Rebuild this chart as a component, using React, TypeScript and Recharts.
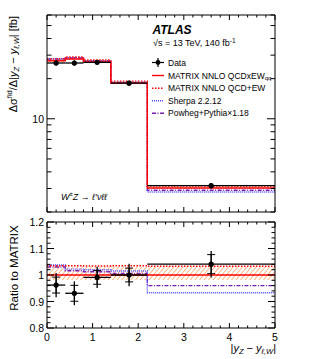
import React from 'react';
import { Area, ComposedChart, ErrorBar, Line, Scatter, XAxis, YAxis } from 'recharts';

// binning in |y_Z - y_l,W|
const binEdges = [0, 0.4, 0.8, 1.4, 2.2, 5];
const binCenters = [0.2, 0.6, 1.1, 1.8, 3.6];

// upper panel, fb
const dataXs = [26.2, 26.2, 26.5, 18.5, 3.15];
const matrixXs = [27.2, 28.1, 26.7, 18.5, 3.03];

// lower panel, ratio to MATRIX
const dataRatio = [0.962, 0.931, 0.991, 1.0, 1.041];
const dataRatioTot = [0.046, 0.045, 0.04, 0.042, 0.05];
const dataRatioStat = [0.03, 0.03, 0.026, 0.026, 0.036];
const matrixRatio = [1, 1, 1, 1, 1];
const matrixBandLo = [0.981, 0.981, 0.981, 0.981, 0.981];
const matrixBandHi = [1.031, 1.031, 1.031, 1.031, 1.031];
const qcdEwRatio = [1.035, 1.035, 1.034, 1.035, 1.033];
const sherpaRatio = [1.038, 1.022, 1.02, 1.015, 0.933];
const powhegRatio = [1.03, 1.016, 1.012, 1.006, 0.96];

// ticks
const xTicks = Array.from({ length: 26 }, (_, i) => Math.round(i * 20) / 100);
const xMajor = [0, 1, 2, 3, 4, 5];
const yTopTicks = [2, 3, 4, 5, 6, 7, 8, 9, 10, 20, 30, 40, 50, 60];
const yTopMajor = [10];
const yRatioTicks = Array.from({ length: 21 }, (_, i) => Math.round(80 + i * 2) / 100);
const yRatioMajor = [0.8, 0.9, 1, 1.1, 1.2];

const FONT = '"Liberation Sans", Arial, Helvetica, sans-serif';
const RED = '#ff0000';
const BLUE = '#4d4dff';
const PURPLE = '#7a1fb0';
const ORANGE = '#ff8a3d';

const pick = (vals: number[], i: number) => vals[Math.min(i, vals.length - 1)];

const topRows = binEdges.map((x, i) => {
  const m = pick(matrixXs, i);
  return {
    x,
    matrix: m,
    qcdew: m * pick(qcdEwRatio, i),
    sherpa: m * pick(sherpaRatio, i),
    powheg: m * pick(powhegRatio, i),
    band: [m * pick(matrixBandLo, i), m * pick(matrixBandHi, i)]
  };
});

const ratioRows = binEdges.map((x, i) => ({
  x,
  matrix: pick(matrixRatio, i),
  qcdew: pick(qcdEwRatio, i),
  sherpa: pick(sherpaRatio, i),
  powheg: pick(powhegRatio, i),
  band: [pick(matrixBandLo, i), pick(matrixBandHi, i)]
}));

const topPoints = binCenters.map((x, i) => ({
  x,
  y: dataXs[i],
  ex: (binEdges[i + 1] - binEdges[i]) / 2,
  eTot: (dataXs[i] * dataRatioTot[i]) / dataRatio[i]
}));

const ratioPoints = binCenters.map((x, i) => ({
  x,
  y: dataRatio[i],
  ex: (binEdges[i + 1] - binEdges[i]) / 2,
  eTot: dataRatioTot[i],
  eStat: dataRatioStat[i]
}));

type Side = 'bottom' | 'top' | 'left' | 'right';

// inward ticks; tickSize/tickMargin are 0 so x/y sit on the axis line
const makeTick =
  (side: Side, majors: number[], showLabels: boolean, majorLen: number, minorLen: number) =>
  (props: any) => {
    const { x, y, payload } = props;
    const v = payload.value as number;
    const isMajor = majors.some((m) => Math.abs(m - v) < 1e-6);
    const len = isMajor ? majorLen : minorLen;
    let line;
    if (side === 'bottom') line = <line x1={x} x2={x} y1={y} y2={y - len} />;
    else if (side === 'top') line = <line x1={x} x2={x} y1={y} y2={y + len} />;
    else if (side === 'left') line = <line x1={x} x2={x + len} y1={y} y2={y} />;
    else line = <line x1={x} x2={x - len} y1={y} y2={y} />;
    let label = null;
    if (showLabels && isMajor) {
      if (side === 'bottom') {
        label = (
          <text x={x} y={y + 9} textAnchor="middle" dominantBaseline="central" fontSize={10.5} fontFamily={FONT} fill="#000" stroke="none">
            {v}
          </text>
        );
      } else if (side === 'left') {
        label = (
          <text x={x - 3} y={y} textAnchor="end" dominantBaseline="central" fontSize={10.5} fontFamily={FONT} fill="#000" stroke="none">
            {v}
          </text>
        );
      }
    }
    return (
      <g stroke="#000" strokeWidth={1}>
        {line}
        {label}
      </g>
    );
  };

const axisLine = { stroke: '#000', strokeWidth: 1 };

const Hatch = () => (
  <defs>
    <pattern id="hatch" width="3.5" height="3.5" patternUnits="userSpaceOnUse" patternTransform="rotate(40)">
      <line x1="0" y1="0" x2="0" y2="3.5" stroke={ORANGE} strokeWidth="1.2" />
    </pattern>
  </defs>
);

const dotShape = (p: any) => <circle cx={p.cx} cy={p.cy} r={2.6} fill="#000" />;

const seriesLines = (w: number) => [
  <Area key="band" dataKey="band" type="stepAfter" fill="url(#hatch)" fillOpacity={1} stroke="none" isAnimationActive={false} />,
  <Line key="powheg" dataKey="powheg" type="stepAfter" stroke={PURPLE} strokeWidth={w} strokeDasharray="4 1.5 1 1.5" dot={false} isAnimationActive={false} />,
  <Line key="sherpa" dataKey="sherpa" type="stepAfter" stroke={BLUE} strokeWidth={w} strokeDasharray="1 1" dot={false} isAnimationActive={false} />,
  <Line key="qcdew" dataKey="qcdew" type="stepAfter" stroke={RED} strokeWidth={w} strokeDasharray="1.5 1.5" dot={false} isAnimationActive={false} />,
  <Line key="matrix" dataKey="matrix" type="stepAfter" stroke={RED} strokeWidth={w} dot={false} isAnimationActive={false} />
];

const frameAxes = (yProps: any, showX: boolean, yMajorLen: number, yMinorLen: number) => [
  <XAxis key="xb" dataKey="x" type="number" domain={[0, 5]} ticks={xTicks} interval={0} height={1} tickSize={0} tickMargin={0}
    axisLine={axisLine} tickLine={false} tick={makeTick('bottom', xMajor, showX, 5, 2.5)} allowDataOverflow />,
  <XAxis key="xt" xAxisId="t" orientation="top" dataKey="x" type="number" domain={[0, 5]} ticks={xTicks} interval={0} height={1}
    tickSize={0} tickMargin={0} axisLine={axisLine} tickLine={false} tick={makeTick('top', xMajor, false, 5, 2.5)} allowDataOverflow />,
  <YAxis key="yl" {...yProps} interval={0} width={1} tickSize={0} tickMargin={0} axisLine={axisLine} tickLine={false}
    tick={makeTick('left', yProps.majors, true, yMajorLen, yMinorLen)} allowDataOverflow />,
  <YAxis key="yr" yAxisId="r" orientation="right" {...yProps} interval={0} width={1} tickSize={0} tickMargin={0} axisLine={axisLine}
    tickLine={false} tick={makeTick('right', yProps.majors, false, yMajorLen, yMinorLen)} allowDataOverflow />
];

const TopPanel = () => (
  <ComposedChart width={317} height={222} data={topRows} margin={{ top: 14, right: 41, bottom: 9, left: 46 }}>
    <Hatch />
    {frameAxes({ scale: 'log', type: 'number', domain: [2, 60], ticks: yTopTicks, majors: yTopMajor }, false, 8, 4.5)}
    {seriesLines(1.4)}
    <Scatter data={topPoints} dataKey="y" shape={dotShape} isAnimationActive={false}>
      <ErrorBar dataKey="ex" direction="x" width={0} stroke="#000" strokeWidth={1.3} />
      <ErrorBar dataKey="eTot" direction="y" width={0} stroke="#000" strokeWidth={1.3} />
    </Scatter>
  </ComposedChart>
);

const RatioPanel = () => (
  <ComposedChart width={317} height={147} data={ratioRows} margin={{ top: 9, right: 41, bottom: 30, left: 46 }}>
    <Hatch />
    {frameAxes({ type: 'number', domain: [0.8, 1.2], ticks: yRatioTicks, majors: yRatioMajor }, true, 7, 3.5)}
    {seriesLines(1.4)}
    <Scatter data={ratioPoints} dataKey="y" shape={dotShape} isAnimationActive={false}>
      <ErrorBar dataKey="ex" direction="x" width={0} stroke="#000" strokeWidth={1.3} />
      <ErrorBar dataKey="eTot" direction="y" width={0} stroke="#000" strokeWidth={1.3} />
      <ErrorBar dataKey="eStat" direction="y" width={4} stroke="#000" strokeWidth={1} />
    </Scatter>
  </ComposedChart>
);

const legendRows = [
  { label: 'Data', y: 62.5 },
  { label: 'MATRIX NNLO QCDxEW', sub: 'qq', y: 75.5, stroke: RED, dash: undefined },
  { label: 'MATRIX NNLO QCD+EW', y: 88.3, stroke: RED, dash: '1.5 1.5' },
  { label: 'Sherpa 2.2.12', y: 100.8, stroke: BLUE, dash: '1 1' },
  { label: 'Powheg+Pythia\u00d71.18', y: 113.3, stroke: PURPLE, dash: '4 1.5 1 1.5' }
];

const Overlay = () => (
  <svg width={317} height={359} style={{ position: 'absolute', left: 0, top: 0, pointerEvents: 'none' }} fontFamily={FONT}>
    <text x={152.5} y={29.5} fontSize={12} fontWeight="bold" fontStyle="italic" dominantBaseline="central">ATLAS</text>
    <text x={153} y={43} fontSize={9} dominantBaseline="central">
      {'\u221As = 13 TeV, 140 fb'}
      <tspan dy={-3.5} fontSize={6.5}>-1</tspan>
    </text>
    {legendRows.map((r) => (
      <g key={r.label}>
        {r.label === 'Data' ? (
          <g stroke="#000" strokeWidth={1.2}>
            <line x1={152} x2={164} y1={r.y} y2={r.y} />
            <line x1={158} x2={158} y1={r.y - 4.5} y2={r.y + 4.5} />
            <circle cx={158} cy={r.y} r={2.4} fill="#000" stroke="none" />
          </g>
        ) : (
          <line x1={152} x2={164} y1={r.y} y2={r.y} stroke={r.stroke} strokeWidth={1.4} strokeDasharray={r.dash} />
        )}
        <text x={168} y={r.y} fontSize={8.5} dominantBaseline="central">
          {r.label}
          {r.sub ? <tspan dy={2.5} fontSize={6}>{r.sub}</tspan> : null}
        </text>
      </g>
    ))}
    <text x={61} y={197} fontSize={9} fontStyle="italic" dominantBaseline="central">
      W<tspan dy={-3} fontSize={6}>±</tspan>
      <tspan dy={3}>{'Z \u2192 \u2113\u2032\u03bd\u2113\u2113'}</tspan>
    </text>
    <text transform="rotate(-90)" x={-16} y={13} fontSize={11} textAnchor="end" dominantBaseline="central">
      {'\u0394\u03c3'}
      <tspan dy={-4} fontSize={7.5}>fid</tspan>
      <tspan dy={4}>{'/\u0394|'}</tspan>
      <tspan fontStyle="italic">y</tspan>
      <tspan dy={2.5} fontSize={7.5} fontStyle="italic">Z</tspan>
      <tspan dy={-2.5}>{' \u2212 '}</tspan>
      <tspan fontStyle="italic">y</tspan>
      <tspan dy={2.5} fontSize={7.5} fontStyle="italic">{'\u2113,W'}</tspan>
      <tspan dy={-2.5}>{'| [fb]'}</tspan>
    </text>
    <text transform="rotate(-90)" x={-268} y={14} fontSize={11.5} textAnchor="middle" dominantBaseline="central">
      Ratio to MATRIX
    </text>
    <text x={276} y={348} fontSize={11} textAnchor="end" dominantBaseline="central">
      {'|'}
      <tspan fontStyle="italic">y</tspan>
      <tspan dy={2.5} fontSize={7.5} fontStyle="italic">Z</tspan>
      <tspan dy={-2.5}>{' \u2212 '}</tspan>
      <tspan fontStyle="italic">y</tspan>
      <tspan dy={2.5} fontSize={7.5} fontStyle="italic">{'\u2113,W'}</tspan>
      <tspan dy={-2.5}>{'|'}</tspan>
    </text>
  </svg>
);

export default function App() {
  return (
    <div style={{ position: 'absolute', left: 0, top: 0, width: 317, height: 359, background: '#fff', fontFamily: FONT }}>
      <div style={{ position: 'absolute', left: 0, top: 0 }}>
        <TopPanel />
      </div>
      <div style={{ position: 'absolute', left: 0, top: 212 }}>
        <RatioPanel />
      </div>
      <Overlay />
    </div>
  );
}
